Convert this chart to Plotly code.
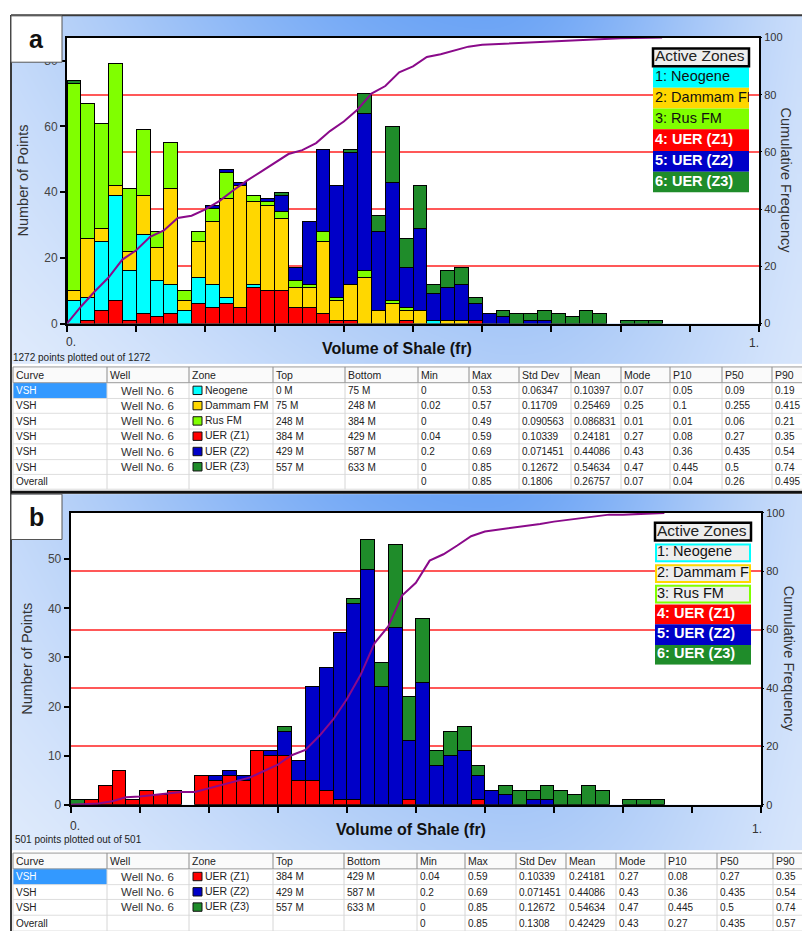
import numpy as np
import plotly.graph_objects as go

W, H = 802, 938
FONT = "Liberation Sans, Arial, sans-serif"

# ---------------- VSH histogram counts, 0.02 bins from 0.00 to 0.86 ----------------
BIN = 0.02
neogene = [7, 7, 21, 32, 15, 24, 11, 9, 4, 8, 7, 2, 0, 1, 0, 0, 0, 0, 0, 0, 0, 0,
           0, 0, 0, 0, 1, 0, 0, 0, 0, 0, 0, 0, 0, 0, 0, 0, 0, 0, 0, 0, 0]
dammam = [3, 18, 4, 3, 6, 12, 10, 29, 3, 11, 19, 30, 37, 25, 26, 22, 6, 6, 22, 6, 11, 14,
          4, 6, 3, 4, 0, 1, 1, 0, 0, 0, 0, 0, 0, 0, 0, 0, 0, 0, 0, 0, 0]
rus = [63, 41, 32, 37, 19, 20, 5, 14, 3, 3, 4, 8, 0, 2, 1, 2, 2, 1, 3, 1, 0, 2,
       0, 1, 1, 0, 0, 0, 0, 0, 0, 0, 0, 0, 0, 0, 0, 0, 0, 0, 0, 0, 0]
uer_z1 = [0, 1, 4, 7, 1, 3, 2, 3, 0, 6, 5, 6, 5, 11, 10, 10, 5, 5, 3, 1, 1, 0,
          0, 0, 1, 0, 0, 0, 0, 1, 0, 0, 0, 0, 0, 0, 0, 0, 0, 0, 0, 0, 0]
uer_z2 = [0, 0, 0, 0, 0, 0, 0, 0, 0, 0, 1, 1, 1, 0, 1, 5, 4, 19, 25, 34, 40, 48,
          24, 36, 12, 25, 8, 10, 11, 5, 3, 2, 0, 1, 1, 0, 0, 0, 0, 0, 0, 0, 0]
uer_z3 = [1, 0, 0, 0, 0, 0, 0, 0, 0, 0, 0, 0, 0, 0, 0, 1, 0, 0, 0, 0, 1, 6,
          5, 17, 9, 13, 3, 5, 5, 2, 0, 2, 3, 2, 3, 3, 2, 4, 3, 0, 1, 1, 1]

zones = ["Neogene", "Dammam FM", "Rus FM", "UER (Z1)", "UER (Z2)", "UER (Z3)"]
zone_colors = ["#00ffff", "#ffd700", "#80ff00", "#ff0000", "#0000c8", "#1f8c2a"]
zone_counts = [neogene, dammam, rus, uer_z1, uer_z2, uer_z3]
stack_a = [3, 0, 1, 2, 4, 5]          # bottom-to-top order of the zone stack
stack_b = [3, 4, 5]

# ---------------- statistics tables ----------------
tbl_header = ["Curve", "Well", "Zone", "Top", "Bottom", "Min", "Max", "Std Dev",
              "Mean", "Mode", "P10", "P50", "P90"]
well_name = "Well No. 6"
curve_name = "VSH"
zone_top = ["0 M", "75 M", "248 M", "384 M", "429 M", "557 M"]
zone_bottom = ["75 M", "248 M", "384 M", "429 M", "587 M", "633 M"]
zone_min = ["0", "0.02", "0", "0.04", "0.2", "0"]
zone_max = ["0.53", "0.57", "0.49", "0.59", "0.69", "0.85"]
zone_std = ["0.06347", "0.11709", "0.090563", "0.10339", "0.071451", "0.12672"]
zone_mean = ["0.10397", "0.25469", "0.086831", "0.24181", "0.44086", "0.54634"]
zone_mode = ["0.07", "0.25", "0.01", "0.27", "0.43", "0.47"]
zone_p10 = ["0.05", "0.1", "0.01", "0.08", "0.36", "0.445"]
zone_p50 = ["0.09", "0.255", "0.06", "0.27", "0.435", "0.5"]
zone_p90 = ["0.19", "0.415", "0.21", "0.35", "0.54", "0.74"]
overall_a = ["0", "0.85", "0.1806", "0.26757", "0.07", "0.04", "0.26", "0.495"]
overall_b = ["0", "0.85", "0.1308", "0.42429", "0.43", "0.27", "0.435", "0.57"]
points_a = (1272, 1272)
points_b = (501, 501)

shapes, annotations, traces = [], [], []


def text(x, y, s, size, color="#222", anchor="left", yanchor="middle", bold=False, angle=0):
    annotations.append(dict(x=x, y=y, xref="x", yref="y", text=f"<b>{s}</b>" if bold else s,
                            showarrow=False, xanchor=anchor, yanchor=yanchor, textangle=angle,
                            font=dict(family=FONT, size=size, color=color)))


def line(x0, y0, x1, y1, color, width):
    shapes.append(dict(type="line", xref="x", yref="y", x0=x0, y0=y0, x1=x1, y1=y1,
                       line=dict(color=color, width=width), layer="above"))


def rect(x0, y0, x1, y1, fill, lc="rgba(0,0,0,0)", lw=0):
    shapes.append(dict(type="rect", xref="x", yref="y", x0=x0, y0=y0, x1=x1, y1=y1,
                       fillcolor=fill, line=dict(color=lc, width=lw), layer="above"))


def gradient(x0, x1, y0, y1, nx=80, ny=50):
    xe = np.linspace(x0, x1, nx + 1)
    ye = np.linspace(y0, y1, ny + 1)
    u = ((xe[:-1] + xe[1:]) / 2 - x0) / (x1 - x0)
    v = ((ye[:-1] + ye[1:]) / 2 - y0) / (y1 - y0)
    U, V = np.meshgrid(u, v)
    wid = np.where(U < 0.6, 0.6, 0.36)
    z = np.exp(-((U - 0.6) / wid) ** 2) * (1 - 0.38 * V - 0.3 * V * (1 - U))
    return go.Heatmap(x=xe, y=ye, z=z, zmin=0, zmax=1, zsmooth="best", showscale=False,
                      colorscale=[[0, "#eef4fd"], [0.5, "#b0cdf8"], [1, "#6ca4f5"]],
                      hoverinfo="skip", xaxis="x", yaxis="y")


# window backgrounds
traces.append(gradient(11, W, 10, 363))
traces.append(gradient(11, W, 495, 856))

centers = (np.arange(len(neogene)) + 0.5) * BIN
edges = np.arange(len(neogene) + 1) * BIN


def nz(vals):
    return [v if v > 0 else None for v in vals]


def add_histogram(order, xa, ya, yr):
    total = np.zeros(len(centers))
    for k in order:
        total += np.array(zone_counts[k])
        traces.append(go.Bar(x=centers, y=nz(zone_counts[k]), width=BIN, xaxis=xa, yaxis=ya,
                             marker=dict(color=zone_colors[k], line=dict(color="black", width=1)),
                             hoverinfo="skip", name=zones[k]))
    cum = np.concatenate([[0], np.cumsum(total) / total.sum() * 100])
    traces.append(go.Scatter(x=edges, y=cum, mode="lines", xaxis=xa, yaxis=yr,
                             line=dict(color="#8a0a8a", width=2), hoverinfo="skip"))


add_histogram(stack_a, "x2", "y2", "y3")
add_histogram(stack_b, "x3", "y4", "y5")


def legend(xa, ya, x0, x1, head, rows, outlined):
    labels = [f"{i + 1}: {z}" for i, z in enumerate(zones)]
    traces.append(go.Scatter(x=[x0, x1, x1, x0, x0], y=[head[0]] * 2 + [head[1]] * 2 + [head[0]],
                             fill="toself", fillcolor="#eeeeee", mode="lines", line=dict(width=0),
                             xaxis=xa, yaxis=ya, hoverinfo="skip"))
    for i, (r0, r1) in enumerate(rows):
        fc = "#eeeeee" if (outlined and i < 3) else zone_colors[i]
        traces.append(go.Scatter(x=[x0, x1, x1, x0, x0], y=[r0, r0, r1, r1, r0], fill="toself",
                                 fillcolor=fc, mode="lines", line=dict(width=0),
                                 xaxis=xa, yaxis=ya, hoverinfo="skip"))
        if outlined and i < 3:
            rect(x0 + 1, r0 + 1, x1 - 1, r1 - 1, "rgba(0,0,0,0)", zone_colors[i], 2)
    ys = [(head[0] + head[1]) / 2] + [(a + b) / 2 for a, b in rows]
    txt = ["Active Zones"] + [lab if i < 3 else f"<b>{lab}</b>" for i, lab in enumerate(labels)]
    cols = ["#222"] + ["#111"] * 3 + ["white"] * 3
    traces.append(go.Scatter(x=[x0 + 2] * len(ys), y=ys, text=txt, mode="text",
                             textposition="middle right", cliponaxis=True,
                             textfont=dict(family=FONT, size=[15.5] + [14.5] * 6, color=cols),
                             xaxis=xa, yaxis=ya, hoverinfo="skip"))
    rect(x0, head[0], x1, head[1], "rgba(0,0,0,0)", "black", 2.5)


LEG_A = (653, 749, (43, 61), [(62, 83), (83, 104), (104, 125), (125, 147), (147, 168), (168, 189)])
LEG_B = (655, 751, (524, 542), [(545, 564), (566, 585), (587, 606), (607, 627), (627, 648), (648, 668)])
legend("x4", "y6", LEG_A[0], LEG_A[1], LEG_A[2], LEG_A[3], False)
legend("x5", "y7", LEG_B[0], LEG_B[1], LEG_B[2], LEG_B[3], True)

# ---------------- frames, labels ----------------
line(11, 9.5, W, 9.5, "#3a3a3a", 2)
line(11, 9, 11, H, "#3a3a3a", 2)
line(11, 493, W, 493, "#111", 3)

for lab, (bx0, by0, bx1, by1) in [("a", (11, 10, 62, 57)), ("b", (11, 495, 62, 541))]:
    rect(bx0, by0, bx1, by1, "white", "#555", 1)
    text((bx0 + bx1) / 2, (by0 + by1) / 2, lab, 25, "#111", anchor="center", bold=True)

AX_FONT = 14.5
text(23, 177, "Number of Points", AX_FONT, "#333", anchor="center", angle=-90)
text(786, 177, "Cumulative Frequency", AX_FONT, "#333", anchor="center", angle=90)
text(27, 662, "Number of Points", AX_FONT, "#333", anchor="center", angle=-90)
text(789, 662, "Cumulative Frequency", AX_FONT, "#333", anchor="center", angle=90)

text(397, 347, "Volume of Shale (fr)", 16, "#111", anchor="center", bold=True)
text(411, 835, "Volume of Shale (fr)", 16, "#111", anchor="center", bold=True)
text(71, 341, "0.", 12, "#333", anchor="center")
text(754, 342, "1.", 12, "#333", anchor="center")
text(75, 832, "0.", 12, "#333", anchor="center")
text(757, 835, "1.", 12, "#333", anchor="center")
text(11, 356, f"{points_a[0]} points plotted out of {points_a[1]}", 10, "#222")
text(13, 845, f"{points_b[0]} points plotted out of {points_b[1]}", 10, "#222")


# ---------------- tables ----------------
def zone_row(i):
    return [curve_name, well_name, zones[i], zone_top[i], zone_bottom[i], zone_min[i], zone_max[i],
            zone_std[i], zone_mean[i], zone_mode[i], zone_p10[i], zone_p50[i], zone_p90[i]]


def draw_table(colx, redges, body):
    top, hb, bot = redges[0], redges[1], redges[-1]
    rect(colx[0], top, W, hb, "#fafafa")
    rect(colx[0], redges[1], colx[1], redges[2], "#3399ff")
    for i, y in enumerate(redges):
        line(colx[0], y, W, y, "#9a9a9a" if i <= 1 else "#dedede", 1)
    for j, x in enumerate(colx):
        line(x, hb, x, bot, "#d6d6d6", 1)
        line(x, top, x, hb, "#8c8c8c", 1)
    for j, h in enumerate(tbl_header):
        text(colx[j] + 1, (top + hb) / 2, h, 10.5, "#222")
    for i, row in enumerate(body):
        yc = (redges[i + 1] + redges[i + 2]) / 2
        for j, val in enumerate(row):
            if not val:
                continue
            if j == 0:
                text(colx[0] + 1, yc, val, 10, "white" if i == 0 else "#222")
            elif j == 1:
                text(colx[1] + 12, yc, val, 11.5, "#333")
            elif j == 2:
                c = zone_colors[zones.index(val)]
                rect(colx[2] + 4, yc - 4.5, colx[2] + 13, yc + 4, c, "#111", 1)
                text(colx[2] + 14, yc - 1, val, 10.5, "#222")
            else:
                text(colx[j] + 1, yc, val, 10, "#222")


COLX_A = [13, 107, 189, 273, 345, 418, 469, 519, 571, 621, 670, 722, 772]
ROWS_A = [366, 382, 398, 413, 429, 444, 460, 475, 490]
body_a = [zone_row(i) for i in range(6)] + [["Overall", "", "", "", ""] + overall_a]
draw_table(COLX_A, ROWS_A, body_a)

COLX_B = [13, 107, 189, 273, 344, 417, 465, 516, 566, 616, 665, 717, 773]
ROWS_B = [859, 875, 891, 906, 922, 938]
body_b = [zone_row(i) for i in (3, 4, 5)] + [["Overall", "", "", "", ""] + overall_b]
draw_table(COLX_B, ROWS_B, body_b)


# ---------------- axes ----------------
def dom_x(a, b):
    return [a / W, b / W]


def dom_y(top, bottom):
    return [1 - bottom / H, 1 - top / H]


hidden = dict(visible=False, fixedrange=True, showgrid=False, zeroline=False)
tick_font = dict(family=FONT, size=12, color="#444")
rtick_font = dict(family=FONT, size=11, color="#333")


def x_hist(domain, anchor):
    return dict(domain=domain, range=[0, 1], anchor=anchor, showline=True, linecolor="black",
                linewidth=2, mirror=True, ticks="outside", tickvals=np.round(np.arange(0, 1.01, 0.1), 2),
                ticklen=6, tickwidth=2, tickcolor="black", showticklabels=False, showgrid=False,
                zeroline=False, fixedrange=True)


def y_left(domain, anchor, top, tickvals):
    return dict(domain=domain, range=[0, top], anchor=anchor, showline=True, linecolor="black",
                linewidth=2, mirror=True, ticks="outside", ticklen=5, tickwidth=2, tickcolor="black",
                tickvals=tickvals, tickfont=tick_font, showgrid=False, zeroline=False, fixedrange=True)


def y_right(over, anchor):
    return dict(overlaying=over, side="right", anchor=anchor, range=[0, 100],
                tickvals=[0, 20, 40, 60, 80, 100], ticks="outside", ticklen=2, tickcolor="black",
                tickfont=rtick_font, showgrid=True, gridcolor="rgba(255,70,70,0.9)", gridwidth=1.5,
                showline=False, zeroline=False, fixedrange=True)


layout = go.Layout(
    width=W, height=H, margin=dict(l=0, r=0, t=0, b=0), showlegend=False,
    paper_bgcolor="white", plot_bgcolor="white", barmode="stack",
    xaxis=dict(domain=[0, 1], range=[0, W], **hidden),
    yaxis=dict(domain=[0, 1], range=[H, 0], **hidden),
    xaxis2=x_hist(dom_x(67, 759), "y2"),
    yaxis2=y_left(dom_y(32, 322), "x2", 87.0, [0, 20, 40, 60, 80]),
    yaxis3=y_right("y2", "x2"),
    xaxis3=x_hist(dom_x(70.7, 761), "y4"),
    yaxis4=y_left(dom_y(514, 810), "x3", 59.44, [0, 10, 20, 30, 40, 50]),
    yaxis5=y_right("y4", "x3"),
    xaxis4=dict(domain=dom_x(LEG_A[0], LEG_A[1]), range=[LEG_A[0], LEG_A[1]], anchor="y6", **hidden),
    yaxis6=dict(domain=dom_y(LEG_A[2][0], LEG_A[3][-1][1]), range=[LEG_A[3][-1][1], LEG_A[2][0]],
                anchor="x4", **hidden),
    xaxis5=dict(domain=dom_x(LEG_B[0], LEG_B[1]), range=[LEG_B[0], LEG_B[1]], anchor="y7", **hidden),
    yaxis7=dict(domain=dom_y(LEG_B[2][0], LEG_B[3][-1][1]), range=[LEG_B[3][-1][1], LEG_B[2][0]],
                anchor="x5", **hidden),
    shapes=shapes, annotations=annotations,
)

fig = go.Figure(data=traces, layout=layout)
fig.write_html("out.html", config={"displayModeBar": False})
